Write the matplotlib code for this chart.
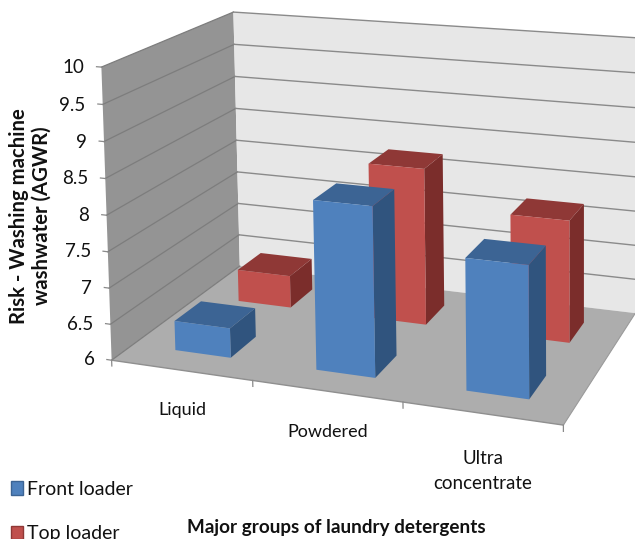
from matplotlib import pyplot as plt
from matplotlib.patches import Patch
from mpl_toolkits.mplot3d import proj3d
from mpl_toolkits.mplot3d.art3d import Poly3DCollection
import numpy as np

plt.rcParams["font.family"] = ["Lato", "DejaVu Sans"]

categories = ["Liquid", "Powdered", "Ultra\nconcentrate"]
front_loader = [6.41, 8.3, 7.75]
top_loader = [6.47, 8.25, 7.72]
value_ticks = [6, 6.5, 7, 7.5, 8, 8.5, 9, 9.5, 10]
value_labels = ["6", "6.5", "7", "7.5", "8", "8.5", "9", "9.5", "10"]

W, H = 635, 539

# where the corners of the chart box land on the picture: (category, depth, value) -> pixel
box_points = [(0, 0, 6), (0, 0, 10), (0, 1, 6), (0, 1, 10), (1, 0, 6), (2, 0, 6), (3, 0, 6), (3, 1, 6), (3, 1, 10)]
pixel_points = [(113, 358), (100, 67), (238, 267), (235, 12), (253, 382), (403, 403), (563, 425), (636, 312), (636, 38)]


def fit_camera(points, pixels):
    rows = []
    for (x, y, z), (px, py) in zip(points, pixels):
        rows.append([x, y, z, 1, 0, 0, 0, 0, -px * x, -px * y, -px * z, -px])
        rows.append([0, 0, 0, 0, x, y, z, 1, -py * x, -py * y, -py * z, -py])
    P = np.linalg.svd(np.array(rows, dtype=float))[2][-1].reshape(3, 4)
    return P / (P[2] @ [1.5, 0.5, 8, 1])


fig = plt.figure(figsize=(W / 100, H / 100), dpi=100)
# square axes as wide as the figure, 3d axes always keep a square box
ax = fig.add_axes([0, -(W - H) / 2 / H, 1, W / H], projection="3d", computed_zorder=False)
ax.set_proj_type("ortho")
ax.set_axis_off()
ax.apply_aspect()

P = fit_camera(box_points, pixel_points)
(u0, v0), (u1, v1) = ax.transData.inverted().transform([(0, 0), (W, H)])
M = np.zeros((4, 4))
M[0] = (u1 - u0) / W * P[0] + u0 * P[2]
M[1] = v1 * P[2] - (v1 - v0) / H * P[1]
M[2] = [0, 1, 0, 0]
M[3] = P[2]
ax.get_proj = lambda: M

# walls and floor
walls = [
    ([(0, 0, 6), (0, 1, 6), (0, 1, 10), (0, 0, 10)], "#949494"),
    ([(0, 1, 6), (3, 1, 6), (3, 1, 10), (0, 1, 10)], "#e7e7e7"),
    ([(0, 0, 6), (3, 0, 6), (3, 1, 6), (0, 1, 6)], "#adadad"),
]
for verts, colour in walls:
    ax.add_collection3d(Poly3DCollection([verts], facecolors=colour, edgecolors="none", zorder=1))

for v in value_ticks:
    ax.plot([0, 0], [0, 1], [v, v], color="#7d7d7d", lw=0.9, zorder=1.5)
    if v > 6:
        ax.plot([0, 3], [1, 1], [v, v], color="#8a8a8a", lw=1.0, zorder=1.5)
    ax.plot([-0.035, 0], [0, 0], [v, v], color="#8a8a8a", lw=0.9, zorder=1.5)

# front edge of the floor with its ticks
ax.plot([0, 3], [0, 0], [6, 6], color="#8f8f8f", lw=1.0, zorder=1.5)
ax.plot([3, 3], [0, 1], [6, 6], color="#9a9a9a", lw=0.8, zorder=1.5)
for i in range(len(categories) + 1):
    ax.plot([i, i], [0, 0], [6, 5.92], color="#8a8a8a", lw=0.9, zorder=1.5)

bar_width = 0.4
bar_depth = 0.2
# bottom, top, front, back, left, right - the hidden ones stay empty
blue_faces = ["none", "#3c6494", "#4f81bd", "none", "none", "#30547e"]
red_faces = ["none", "#8f3836", "#c0504d", "none", "none", "#7b2d2b"]

order = 3
for values, row, faces in [(top_loader, 0.65, red_faces), (front_loader, 0.15, blue_faces)]:
    for i, value in enumerate(values):
        bar = ax.bar3d(i + 0.31, row, 6, bar_width, bar_depth, value - 6, color=faces, shade=False)
        bar.set_zorder(order)
        order += 1

for v, label in zip(value_ticks, value_labels):
    tx, ty, _ = proj3d.proj_transform(-0.125, 0, v - 0.03, M)
    ax.text2D(tx, ty, label, transform=ax.transData, ha="right", va="center", fontsize=13.5, color="#111111")


def at(px, py):
    return px / W, 1 - py / H


fig.text(*at(182, 410), categories[0], ha="center", va="center", fontsize=13, color="#111111")
fig.text(*at(328, 432), categories[1], ha="center", va="center", fontsize=13, color="#111111")
fig.text(*at(483, 471), categories[2], ha="center", va="center", fontsize=13.5, color="#111111", linespacing=1.6)

fig.text(*at(30, 216), "Risk - Washing machine\nwashwater (AGWR)", rotation=90, ha="center", va="center",
         fontsize=14.6, fontweight="bold", color="#111111", linespacing=1.17)
fig.text(*at(336, 527), "Major groups of laundry detergents", ha="center", va="center",
         fontsize=13.6, fontweight="bold", color="#111111")

handles = [Patch(facecolor="#4f81bd", edgecolor="#3c6494", label="Front loader"),
           Patch(facecolor="#c0504d", edgecolor="#8f3836", label="Top loader")]
fig.legend(handles=handles, loc="upper left", bbox_to_anchor=at(5, 475), frameon=False, fontsize=14,
           handlelength=0.62, handleheight=0.7, handletextpad=0.22, labelspacing=1.42, borderpad=0.3,
           borderaxespad=0, labelcolor="#111111")

fig.savefig("out.png", dpi=100)
